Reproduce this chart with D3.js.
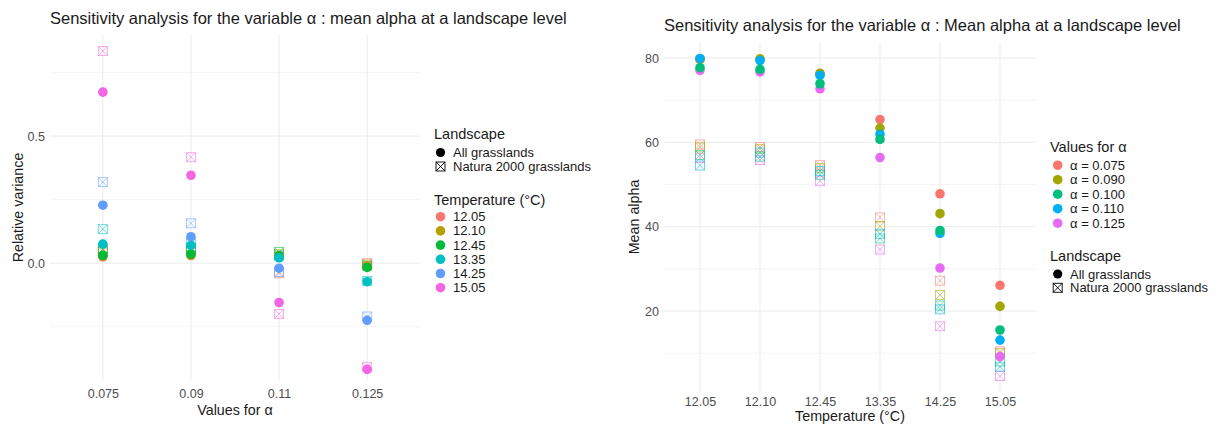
<!DOCTYPE html>
<html>
<head>
<meta charset="utf-8">
<script src="https://cdn.jsdelivr.net/npm/d3@7"></script>
<style>
  html, body { margin: 0; padding: 0; background: #fff; }
  svg { display: block; font-family: "Liberation Sans", Arial, sans-serif; }
</style>
</head>
<body>
<svg id="chart" width="1216" height="425"></svg>
<script>
// ---- Left panel: relative variance by alpha value, one colour per temperature ----
const alphaCats = ["0.075", "0.09", "0.11", "0.125"];
const tempCats = ["12.05", "12.10", "12.45", "13.35", "14.25", "15.05"];
const tempColors = ["#F8766D", "#B79F00", "#00BA38", "#00BFC4", "#619CFF", "#F564E3"];
// relative variance, one row per temperature, one value per alpha category
const relVarAll = [
  [0.025, 0.030, 0.030, -0.010],
  [0.028, 0.032, 0.030, -0.012],
  [0.031, 0.036, 0.028, -0.017],
  [0.075, 0.070, 0.021, -0.073],
  [0.228, 0.104, -0.020, -0.225],
  [0.673, 0.346, -0.155, -0.418]
];
const relVarNatura = [
  [0.045, 0.050, -0.040, 0.000],
  [0.050, 0.055, 0.035, -0.005],
  [0.055, 0.060, 0.044, -0.010],
  [0.134, 0.080, 0.030, -0.070],
  [0.319, 0.157, -0.035, -0.210],
  [0.835, 0.417, -0.200, -0.408]
];
const leftYTicks = [0.0, 0.5];

// ---- Right panel: mean alpha by temperature, one colour per alpha value ----
const alphaLabels = ["α = 0.075", "α = 0.090", "α = 0.100", "α = 0.110", "α = 0.125"];
const alphaColors = ["#F8766D", "#A3A500", "#00BF7D", "#00B0F6", "#E76BF3"];
// mean alpha, one row per alpha value, one value per temperature
const meanAll = [
  [79.6, 79.6, 76.2, 65.4, 47.8, 26.1],
  [79.8, 79.8, 76.4, 63.4, 43.1, 21.1],
  [77.7, 77.3, 73.9, 60.7, 39.1, 15.5],
  [79.9, 79.4, 75.9, 61.9, 38.4, 13.1],
  [77.1, 76.7, 72.7, 56.4, 30.2, 9.2]
];
const meanNatura = [
  [59.5, 58.9, 54.6, 42.2, 27.2, 10.4],
  [58.8, 58.4, 53.9, 40.1, 23.8, 10.0],
  [57.0, 56.6, 52.3, 37.2, 21.3, 8.0],
  [54.5, 57.6, 53.2, 38.3, 20.4, 6.8],
  [56.3, 55.8, 50.8, 34.6, 16.4, 4.6]
];
const rightYTicks = [20, 40, 60, 80];
// order in which the alpha series are layered (later ones on top)
const rightDrawOrder = [4, 0, 1, 3, 2];

const landscapeLabels = ["All grasslands", "Natura 2000 grasslands"];

const svg = d3.select("#chart");
const gridMajor = "#EBEBEB";
const tickColor = "#4D4D4D";
const textColor = "#1A1A1A";
const dotR = 4.8;

// square-with-cross symbol for the Natura 2000 points
function boxCross(g, cx, cy, s, color, opacity) {
  const h = s / 2;
  const grp = g.append("g")
    .attr("stroke", color).attr("stroke-opacity", opacity)
    .attr("stroke-width", 1).attr("fill", "none");
  grp.append("rect").attr("x", cx - h).attr("y", cy - h).attr("width", s).attr("height", s);
  grp.append("path").attr("d", `M${cx - h},${cy - h}L${cx + h},${cy + h}M${cx + h},${cy - h}L${cx - h},${cy + h}`);
}

function drawPanel(cfg) {
  const g = svg.append("g");
  const x = d3.scalePoint().domain(cfg.xCats).range([cfg.left, cfg.right]).padding(0.6);
  const y = d3.scaleLinear().domain(cfg.yDomain).range([cfg.bottom, cfg.top]);

  // minor horizontal grid: midpoints between major ticks
  const step = cfg.yTicks[1] - cfg.yTicks[0];
  const minor = [];
  for (let v = cfg.yTicks[0] - step / 2; v <= cfg.yDomain[1]; v += step) {
    if (v >= cfg.yDomain[0]) minor.push(v);
  }
  g.append("g").selectAll("line").data(minor).join("line")
    .attr("x1", cfg.left).attr("x2", cfg.right)
    .attr("y1", d => y(d)).attr("y2", d => y(d))
    .attr("stroke", "#F2F2F2").attr("stroke-width", 0.8);

  // major grid
  g.append("g").selectAll("line").data(cfg.yTicks).join("line")
    .attr("x1", cfg.left).attr("x2", cfg.right)
    .attr("y1", d => y(d)).attr("y2", d => y(d))
    .attr("stroke", gridMajor).attr("stroke-width", 1);
  g.append("g").selectAll("line").data(cfg.xCats).join("line")
    .attr("x1", d => x(d)).attr("x2", d => x(d))
    .attr("y1", cfg.top).attr("y2", cfg.bottom)
    .attr("stroke", gridMajor).attr("stroke-width", 1);

  // axes (ticks and labels only, no domain line)
  const yAxis = g.append("g").attr("transform", `translate(${cfg.left},0)`)
    .call(d3.axisLeft(y).tickValues(cfg.yTicks).tickFormat(cfg.yFormat).tickSize(0).tickPadding(5));
  yAxis.select(".domain").remove();
  yAxis.selectAll("text").attr("fill", tickColor).attr("font-size", 12.5)
    .style("font-family", "Liberation Sans, Arial, sans-serif");

  const xAxis = g.append("g").attr("transform", `translate(0,${cfg.bottom})`)
    .call(d3.axisBottom(x).tickSize(0).tickPadding(cfg.xTickPad));
  xAxis.select(".domain").remove();
  xAxis.selectAll("text").attr("fill", tickColor).attr("font-size", 12.5)
    .style("font-family", "Liberation Sans, Arial, sans-serif");

  // titles
  g.append("text").attr("x", cfg.left).attr("y", cfg.titleY)
    .attr("font-size", 16.5).attr("fill", textColor).text(cfg.title);
  g.append("text").attr("x", (cfg.left + cfg.right) / 2).attr("y", cfg.xTitleY)
    .attr("text-anchor", "middle").attr("font-size", 14.3).attr("fill", textColor).text(cfg.xTitle);
  g.append("text")
    .attr("transform", `translate(${cfg.yTitleX},${(cfg.top + cfg.bottom) / 2}) rotate(-90)`)
    .attr("text-anchor", "middle").attr("font-size", 14.3).attr("fill", textColor).text(cfg.yTitle);

  // points
  const pts = g.append("g");
  cfg.series.forEach(s => {
    cfg.xCats.forEach((c, i) => {
      const cx = x(c), cy = y(s.values[i]);
      if (s.natura) boxCross(pts, cx, cy, 9, s.color, 0.55);
      else pts.append("circle").attr("cx", cx).attr("cy", cy).attr("r", dotR).attr("fill", s.color);
    });
  });
  return g;
}

function legendTitle(x0, y0, text) {
  svg.append("text").attr("x", x0).attr("y", y0).attr("dy", "0.35em")
    .attr("font-size", 14.5).attr("fill", textColor).text(text);
}
function legendLandscape(x0, y0, gap, textX) {
  landscapeLabels.forEach((lab, i) => {
    const cy = y0 + i * gap;
    if (i === 0) svg.append("circle").attr("cx", x0).attr("cy", cy).attr("r", 4.6).attr("fill", "#000");
    else boxCross(svg, x0, cy, 9, "#000", 0.9);
    svg.append("text").attr("x", textX).attr("y", cy).attr("dy", "0.35em")
      .attr("font-size", 13).attr("fill", textColor).text(lab);
  });
}
function legendColors(x0, y0, gap, textX, labels, colors) {
  labels.forEach((lab, i) => {
    const cy = y0 + i * gap;
    svg.append("circle").attr("cx", x0).attr("cy", cy).attr("r", 4.8).attr("fill", colors[i]);
    svg.append("text").attr("x", textX).attr("y", cy).attr("dy", "0.35em")
      .attr("font-size", 13).attr("fill", textColor).text(lab);
  });
}

// ---- Left panel ----
const leftSeries = [];
tempCats.forEach((t, i) => leftSeries.push({ color: tempColors[i], values: relVarNatura[i], natura: true }));
tempCats.forEach((t, i) => leftSeries.push({ color: tempColors[i], values: relVarAll[i], natura: false }));

drawPanel({
  xCats: alphaCats, left: 50, right: 420, top: 35, bottom: 380,
  yDomain: [-0.46, 0.898], yTicks: leftYTicks, yFormat: d3.format(".1f"),
  xTickPad: 9, series: leftSeries,
  title: "Sensitivity analysis for the variable α : mean alpha at a landscape level", titleY: 24,
  xTitle: "Values for α", xTitleY: 415, yTitle: "Relative variance", yTitleX: 23
});
legendTitle(434, 134, "Landscape");
legendLandscape(440.5, 152.5, 14, 453);
legendTitle(434, 200, "Temperature (°C)");
legendColors(440.5, 216.7, 14.2, 453, tempCats, tempColors);

// ---- Right panel ----
const rightSeries = [];
rightDrawOrder.forEach(i => rightSeries.push({ color: alphaColors[i], values: meanNatura[i], natura: true }));
rightDrawOrder.forEach(i => rightSeries.push({ color: alphaColors[i], values: meanAll[i], natura: false }));

drawPanel({
  xCats: tempCats, left: 664, right: 1036, top: 42, bottom: 392,
  yDomain: [0.8, 83.8], yTicks: rightYTicks, yFormat: d3.format("d"),
  xTickPad: 5, series: rightSeries,
  title: "Sensitivity analysis for the variable α : Mean alpha at a landscape level", titleY: 31,
  xTitle: "Temperature (°C)", xTitleY: 420.5, yTitle: "Mean alpha", yTitleX: 639
});
legendTitle(1050, 147, "Values for α");
legendColors(1057.7, 165.2, 14.5, 1070, alphaLabels, alphaColors);
legendTitle(1050, 256, "Landscape");
legendLandscape(1057.7, 274, 13.8, 1070);
</script>
</body>
</html>
